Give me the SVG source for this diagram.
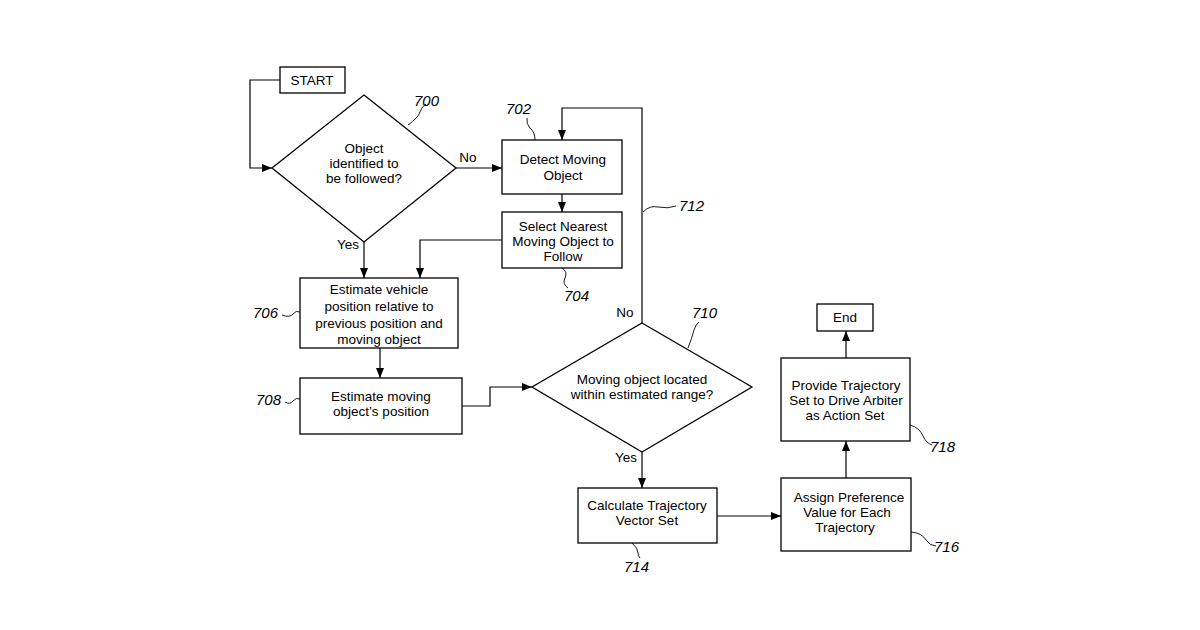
<svg xmlns="http://www.w3.org/2000/svg" width="1200" height="630" viewBox="0 0 1200 630">
<defs>
<marker id="a" viewBox="0 0 10 10" refX="10" refY="5" markerWidth="10" markerHeight="10" markerUnits="userSpaceOnUse" orient="auto"><path d="M0,1 L10,5 L0,9 z" fill="#000"/></marker>
<style>
.b{fill:#fff;stroke:#000;stroke-width:1.3}
.c{fill:none;stroke:#000;stroke-width:1.2}
.l{fill:none;stroke:#000;stroke-width:0.9}
text{font-family:"Liberation Sans",Arial,sans-serif;font-size:13.5px;fill:#000;text-anchor:middle}
.r{font-style:italic;font-size:15px;text-anchor:start}
</style>
</defs>
<rect width="1200" height="630" fill="#fff"/>
<g id="connectors">
<path class="c" d="M280,80 H250 V168 H272" marker-end="url(#a)"/>
<path class="c" d="M456,168 H502" marker-end="url(#a)"/>
<path class="c" d="M562,194 V212" marker-end="url(#a)"/>
<path class="c" d="M502,240 H420 V278" marker-end="url(#a)"/>
<path class="c" d="M364,242 V278" marker-end="url(#a)"/>
<path class="c" d="M380,348 V378" marker-end="url(#a)"/>
<path class="c" d="M462,406 H490 V387 H532" marker-end="url(#a)"/>
<path class="c" d="M642,323 V108 H562 V140" marker-end="url(#a)"/>
<path class="c" d="M642,452 V488" marker-end="url(#a)"/>
<path class="c" d="M717,516 H781" marker-end="url(#a)"/>
<path class="c" d="M846,478 V441" marker-end="url(#a)"/>
<path class="c" d="M846,358 V331" marker-end="url(#a)"/>
<text x="468" y="162">No</text>
<text x="348" y="249">Yes</text>
<text x="625" y="317">No</text>
<text x="626" y="462">Yes</text>
</g>
<g id="start"><rect class="b" x="280" y="67" width="65" height="26"/><text x="312" y="85">START</text></g>
<g id="n700"><polygon class="b" points="364,95 456,168 364,242 272,168"/>
<text x="364" y="153">Object</text><text x="364" y="168">identified to</text><text x="364" y="183">be followed?</text>
<path class="l" d="M408,125 Q418,118 420,112 Q422,106 426,104"/><text class="r" x="414" y="106">700</text></g>
<g id="n702"><rect class="b" x="502" y="140" width="120" height="54"/>
<text x="563" y="164">Detect Moving</text><text x="563" y="180">Object</text>
<path class="l" d="M535,140 Q535,132 530,128 Q526,124 527,118"/><text class="r" x="506" y="114">702</text></g>
<g id="n704"><rect class="b" x="502" y="212" width="120" height="56"/>
<text x="563" y="231">Select Nearest</text><text x="563" y="246">Moving Object to</text><text x="563" y="261">Follow</text>
<path class="l" d="M562,268 Q568,272 565,278 Q562,284 568,288"/><text class="r" x="564" y="301">704</text></g>
<g id="n706"><rect class="b" x="300" y="278" width="158" height="70"/>
<text x="379" y="294">Estimate vehicle</text><text x="379" y="311">position relative to</text><text x="379" y="328">previous position and</text><text x="379" y="344">moving object</text>
<path class="l" d="M282,315 Q290,318 293,314 Q296,310 300,312"/><text class="r" x="253" y="318">706</text></g>
<g id="n708"><rect class="b" x="300" y="378" width="162" height="56"/>
<text x="381" y="401">Estimate moving</text><text x="381" y="416">object’s position</text>
<path class="l" d="M285,402 Q290,405 293,401 Q296,397 300,399"/><text class="r" x="256" y="405">708</text></g>
<g id="n710"><polygon class="b" points="642,323 752,387 642,452 532,387"/>
<text x="642" y="384">Moving object located</text><text x="642" y="399">within estimated range?</text>
<path class="l" d="M688,348 Q692,338 694,330 Q696,324 699,322"/><text class="r" x="692" y="318">710</text></g>
<g id="n712"><path class="l" d="M643,212 Q650,205 658,207 Q668,209 676,206"/><text class="r" x="679" y="211">712</text></g>
<g id="n714"><rect class="b" x="578" y="488" width="139" height="55"/>
<text x="647" y="510">Calculate Trajectory</text><text x="647" y="525">Vector  Set</text>
<path class="l" d="M632,543 Q638,548 638,553 Q638,556 640,558"/><text class="r" x="624" y="572">714</text></g>
<g id="n716"><rect class="b" x="781" y="478" width="130" height="73"/>
<text x="849" y="502">Assign Preference</text><text x="847" y="517">Value for Each</text><text x="845" y="532">Trajectory</text>
<path class="l" d="M911,532 Q922,533 926,540 Q930,546 936,546"/><text class="r" x="934" y="552">716</text></g>
<g id="n718"><rect class="b" x="781" y="358" width="129" height="83"/>
<text x="846" y="390">Provide Trajectory</text><text x="846" y="405">Set to Drive Arbiter</text><text x="845" y="420">as Action Set</text>
<path class="l" d="M910,425 Q920,428 923,436 Q926,443 932,445"/><text class="r" x="930" y="452">718</text></g>
<g id="end"><rect class="b" x="817" y="304" width="56" height="27"/><text x="845" y="322">End</text></g>
</svg>
